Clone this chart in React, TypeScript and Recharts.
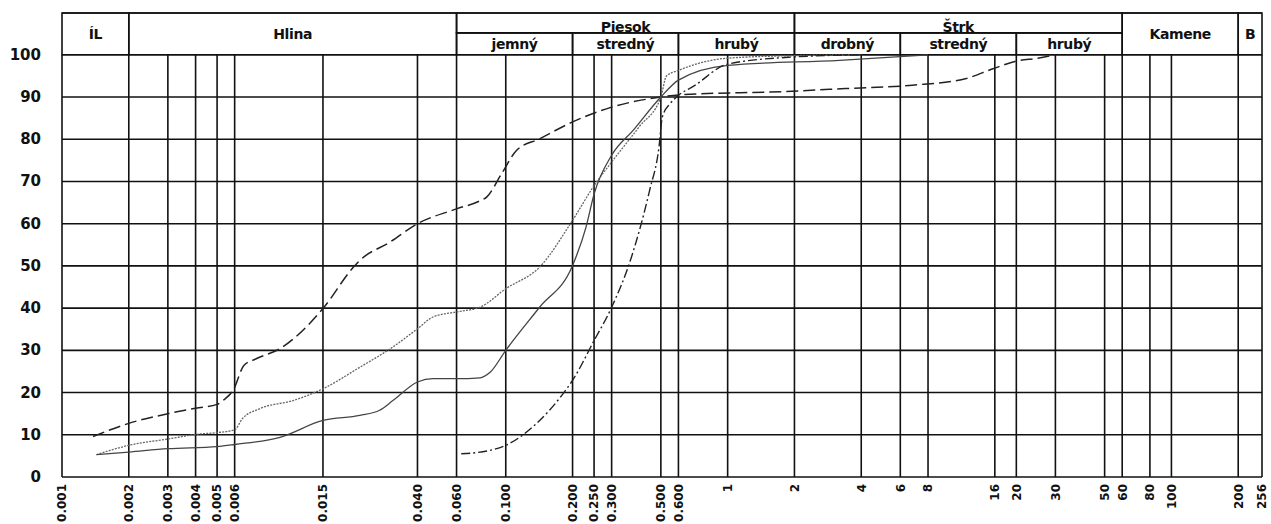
import React from "react";
import {
  CartesianGrid,
  Line,
  LineChart,
  ReferenceArea,
  ReferenceLine,
  XAxis,
  YAxis,
} from "recharts";

// grain size (mm) grid lines and their printed labels
const X_TICKS = [
  0.001, 0.002, 0.003, 0.004, 0.005, 0.006, 0.015, 0.04, 0.06, 0.1, 0.2, 0.25,
  0.3, 0.5, 0.6, 1, 2, 4, 6, 8, 16, 20, 30, 50, 60, 80, 100, 200, 256,
];
const X_TICK_LABELS = [
  "0.001", "0.002", "0.003", "0.004", "0.005", "0.006", "0.015", "0.040",
  "0.060", "0.100", "0.200", "0.250", "0.300", "0.500", "0.600", "1", "2", "4",
  "6", "8", "16", "20", "30", "50", "60", "80", "100", "200", "256",
];
const Y_TICKS = [0, 10, 20, 30, 40, 50, 60, 70, 80, 90, 100];

// header: fractions spanning the full header height
const MAIN_CLASSES = [
  { name: "ÍL", from: 0.001, to: 0.002 },
  { name: "Hlina", from: 0.002, to: 0.06 },
  { name: "Kamene", from: 60, to: 200 },
  { name: "B", from: 200, to: 256 },
];
// header: fractions with a sub-division row
const GROUP_CLASSES = [
  { name: "Piesok", from: 0.06, to: 2 },
  { name: "Štrk", from: 2, to: 60 },
];
const SUB_CLASSES = [
  { name: "jemný", from: 0.06, to: 0.2 },
  { name: "stredný", from: 0.2, to: 0.6 },
  { name: "hrubý", from: 0.6, to: 2 },
  { name: "drobný", from: 2, to: 6 },
  { name: "stredný", from: 6, to: 20 },
  { name: "hrubý", from: 20, to: 60 },
];

// grading curves: [grain size mm, passing %]
const SAMPLE_DASHED = [
  [0.00138, 9.6], [0.002, 12.7], [0.003, 15], [0.004, 16.3], [0.005, 17.2],
  [0.0054, 18.4], [0.0059, 20.5], [0.0066, 26.4], [0.0075, 28], [0.0096, 30.4],
  [0.015, 39.9], [0.0205, 49.6], [0.022, 51.3], [0.03, 55.6], [0.04, 60],
  [0.06, 63.5], [0.0764, 65.4], [0.082, 66.3], [0.0957, 71.8], [0.112, 77.4],
  [0.142, 80.1], [0.2, 84.1], [0.3, 87.6], [0.5, 90], [0.6, 90.5], [1.8, 91.3],
  [3.4, 92], [6.8, 92.8], [11.9, 94.4], [15.7, 96.7], [20, 98.5], [25, 99.2],
  [30, 100],
];
const SAMPLE_DOTTED = [
  [0.00143, 5.3], [0.002, 7.5], [0.003, 9], [0.0042, 10.2], [0.005, 10.5],
  [0.006, 11.2], [0.0065, 13.8], [0.0078, 16.2], [0.011, 18.1], [0.015, 20.9],
  [0.022, 26], [0.031, 30.8], [0.04, 35.1], [0.047, 37.9], [0.06, 39.1],
  [0.0764, 40.2], [0.1, 44.6], [0.142, 49.7], [0.2, 60.8], [0.25, 69],
  [0.3, 74.6], [0.4, 83], [0.5, 90], [0.53, 95], [0.6, 96.3], [1, 99.2],
  [2, 99.8], [4, 100],
];
const SAMPLE_SOLID = [
  [0.00143, 5.3], [0.002, 5.9], [0.003, 6.7], [0.005, 7.2], [0.006, 7.7],
  [0.0096, 9.4], [0.015, 13.4], [0.022, 14.6], [0.027, 15.8], [0.031, 18.1],
  [0.04, 22.5], [0.047, 23.3], [0.06, 23.3], [0.0764, 23.5], [0.085, 24.8],
  [0.1, 30], [0.142, 40.2], [0.2, 50.1], [0.23, 59.2], [0.25, 67], [0.3, 76.2],
  [0.375, 82.1], [0.5, 90], [0.6, 94], [1, 97.5], [3.2, 98.7], [8, 100],
];
const SAMPLE_DASHDOT = [
  [0.063, 5.5], [0.0847, 6.3], [0.1, 7.5], [0.137, 12.6], [0.181, 19.7],
  [0.2, 22.9], [0.25, 32.3], [0.3, 40.2], [0.368, 52], [0.445, 67.9],
  [0.49, 78], [0.508, 85.3], [0.55, 88.4], [0.6, 90.4], [0.7, 92.5],
  [1, 97.8], [2, 99.5], [4, 100],
];

const toRows = (pts: number[][]) => pts.map(([d, p]) => ({ d, p }));

const FONT = "'DejaVu Sans', sans-serif";
const INK = "#111";

function HeaderLabel(props: any) {
  const { viewBox, caption, dy = 0 } = props;
  if (!viewBox) return null;
  const { x, y, width, height } = viewBox;
  return (
    <text
      x={x + width / 2}
      y={y + height / 2 + dy}
      textAnchor="middle"
      dominantBaseline="central"
      fontFamily={FONT}
      fontWeight="bold"
      fontSize={14}
      letterSpacing={-0.4}
      fill={INK}
    >
      {caption}
    </text>
  );
}

function XTick(props: any) {
  const { x, payload, index } = props;
  return (
    <g transform={`translate(${x},${477})`}>
      <text
        transform="rotate(-90)"
        x={-7}
        y={0}
        dy="0.36em"
        textAnchor="end"
        fontFamily={FONT}
        fontWeight="bold"
        fontSize={12}
        fill={INK}
      >
        {X_TICK_LABELS[index] ?? String(payload.value)}
      </text>
    </g>
  );
}

function YTick(props: any) {
  const { x, y, payload } = props;
  return (
    <text
      x={x}
      y={y}
      textAnchor="end"
      dominantBaseline="central"
      fontFamily={FONT}
      fontWeight="bold"
      fontSize={15}
      fill={INK}
    >
      {payload.value}
    </text>
  );
}

const frame = { fill: "none", stroke: INK, strokeWidth: 1.6, fillOpacity: 1 };

export default function App() {
  return (
    <div style={{ width: 1271, height: 524 }}>
      <style>{`body{margin:0;background:#fff}`}</style>
      <LineChart
        width={1271}
        height={524}
        margin={{ top: 13, right: 9, bottom: 0, left: 0 }}
      >
        <CartesianGrid vertical={false} stroke={INK} strokeWidth={1.6} />
        <XAxis
          dataKey="d"
          type="number"
          scale="log"
          domain={[0.001, 256]}
          ticks={X_TICKS}
          interval={0}
          allowDataOverflow
          axisLine={false}
          tickLine={false}
          height={47}
          tick={<XTick />}
        />
        <YAxis
          type="number"
          domain={[0, 109.9]}
          ticks={Y_TICKS}
          interval={0}
          allowDataOverflow
          width={62}
          axisLine={false}
          tickLine={false}
          tickSize={6}
          tickMargin={15}
          tick={<YTick />}
        />

        {X_TICKS.map((t) => (
          <ReferenceLine
            key={`v-${t}`}
            segment={[
              { x: t, y: 0 },
              { x: t, y: 100 },
            ]}
            stroke={INK}
            strokeWidth={1.6}
          />
        ))}

        {MAIN_CLASSES.map((c) => (
          <ReferenceArea
            key={c.name}
            x1={c.from}
            x2={c.to}
            y1={100}
            y2={109.9}
            {...frame}
            label={<HeaderLabel caption={c.name} />}
          />
        ))}
        {GROUP_CLASSES.map((c) => (
          <ReferenceArea
            key={c.name}
            x1={c.from}
            x2={c.to}
            y1={105.2}
            y2={109.9}
            {...frame}
            label={<HeaderLabel caption={c.name} dy={4} />}
          />
        ))}
        {SUB_CLASSES.map((c) => (
          <ReferenceArea
            key={`${c.name}-${c.from}`}
            x1={c.from}
            x2={c.to}
            y1={100}
            y2={105.2}
            {...frame}
            label={<HeaderLabel caption={c.name} />}
          />
        ))}

        <Line
          data={toRows(SAMPLE_DASHED)}
          dataKey="p"
          type="monotone"
          stroke="#222"
          strokeWidth={1.5}
          strokeDasharray="12 5"
          dot={false}
          isAnimationActive={false}
        />
        <Line
          data={toRows(SAMPLE_DOTTED)}
          dataKey="p"
          type="monotone"
          stroke="#666"
          strokeWidth={1.3}
          strokeDasharray="2 1.2"
          dot={false}
          isAnimationActive={false}
        />
        <Line
          data={toRows(SAMPLE_SOLID)}
          dataKey="p"
          type="monotone"
          stroke="#444"
          strokeWidth={1.3}
          dot={false}
          isAnimationActive={false}
        />
        <Line
          data={toRows(SAMPLE_DASHDOT)}
          dataKey="p"
          type="monotone"
          stroke="#222"
          strokeWidth={1.4}
          strokeDasharray="9 3 2 3"
          dot={false}
          isAnimationActive={false}
        />
      </LineChart>
    </div>
  );
}
